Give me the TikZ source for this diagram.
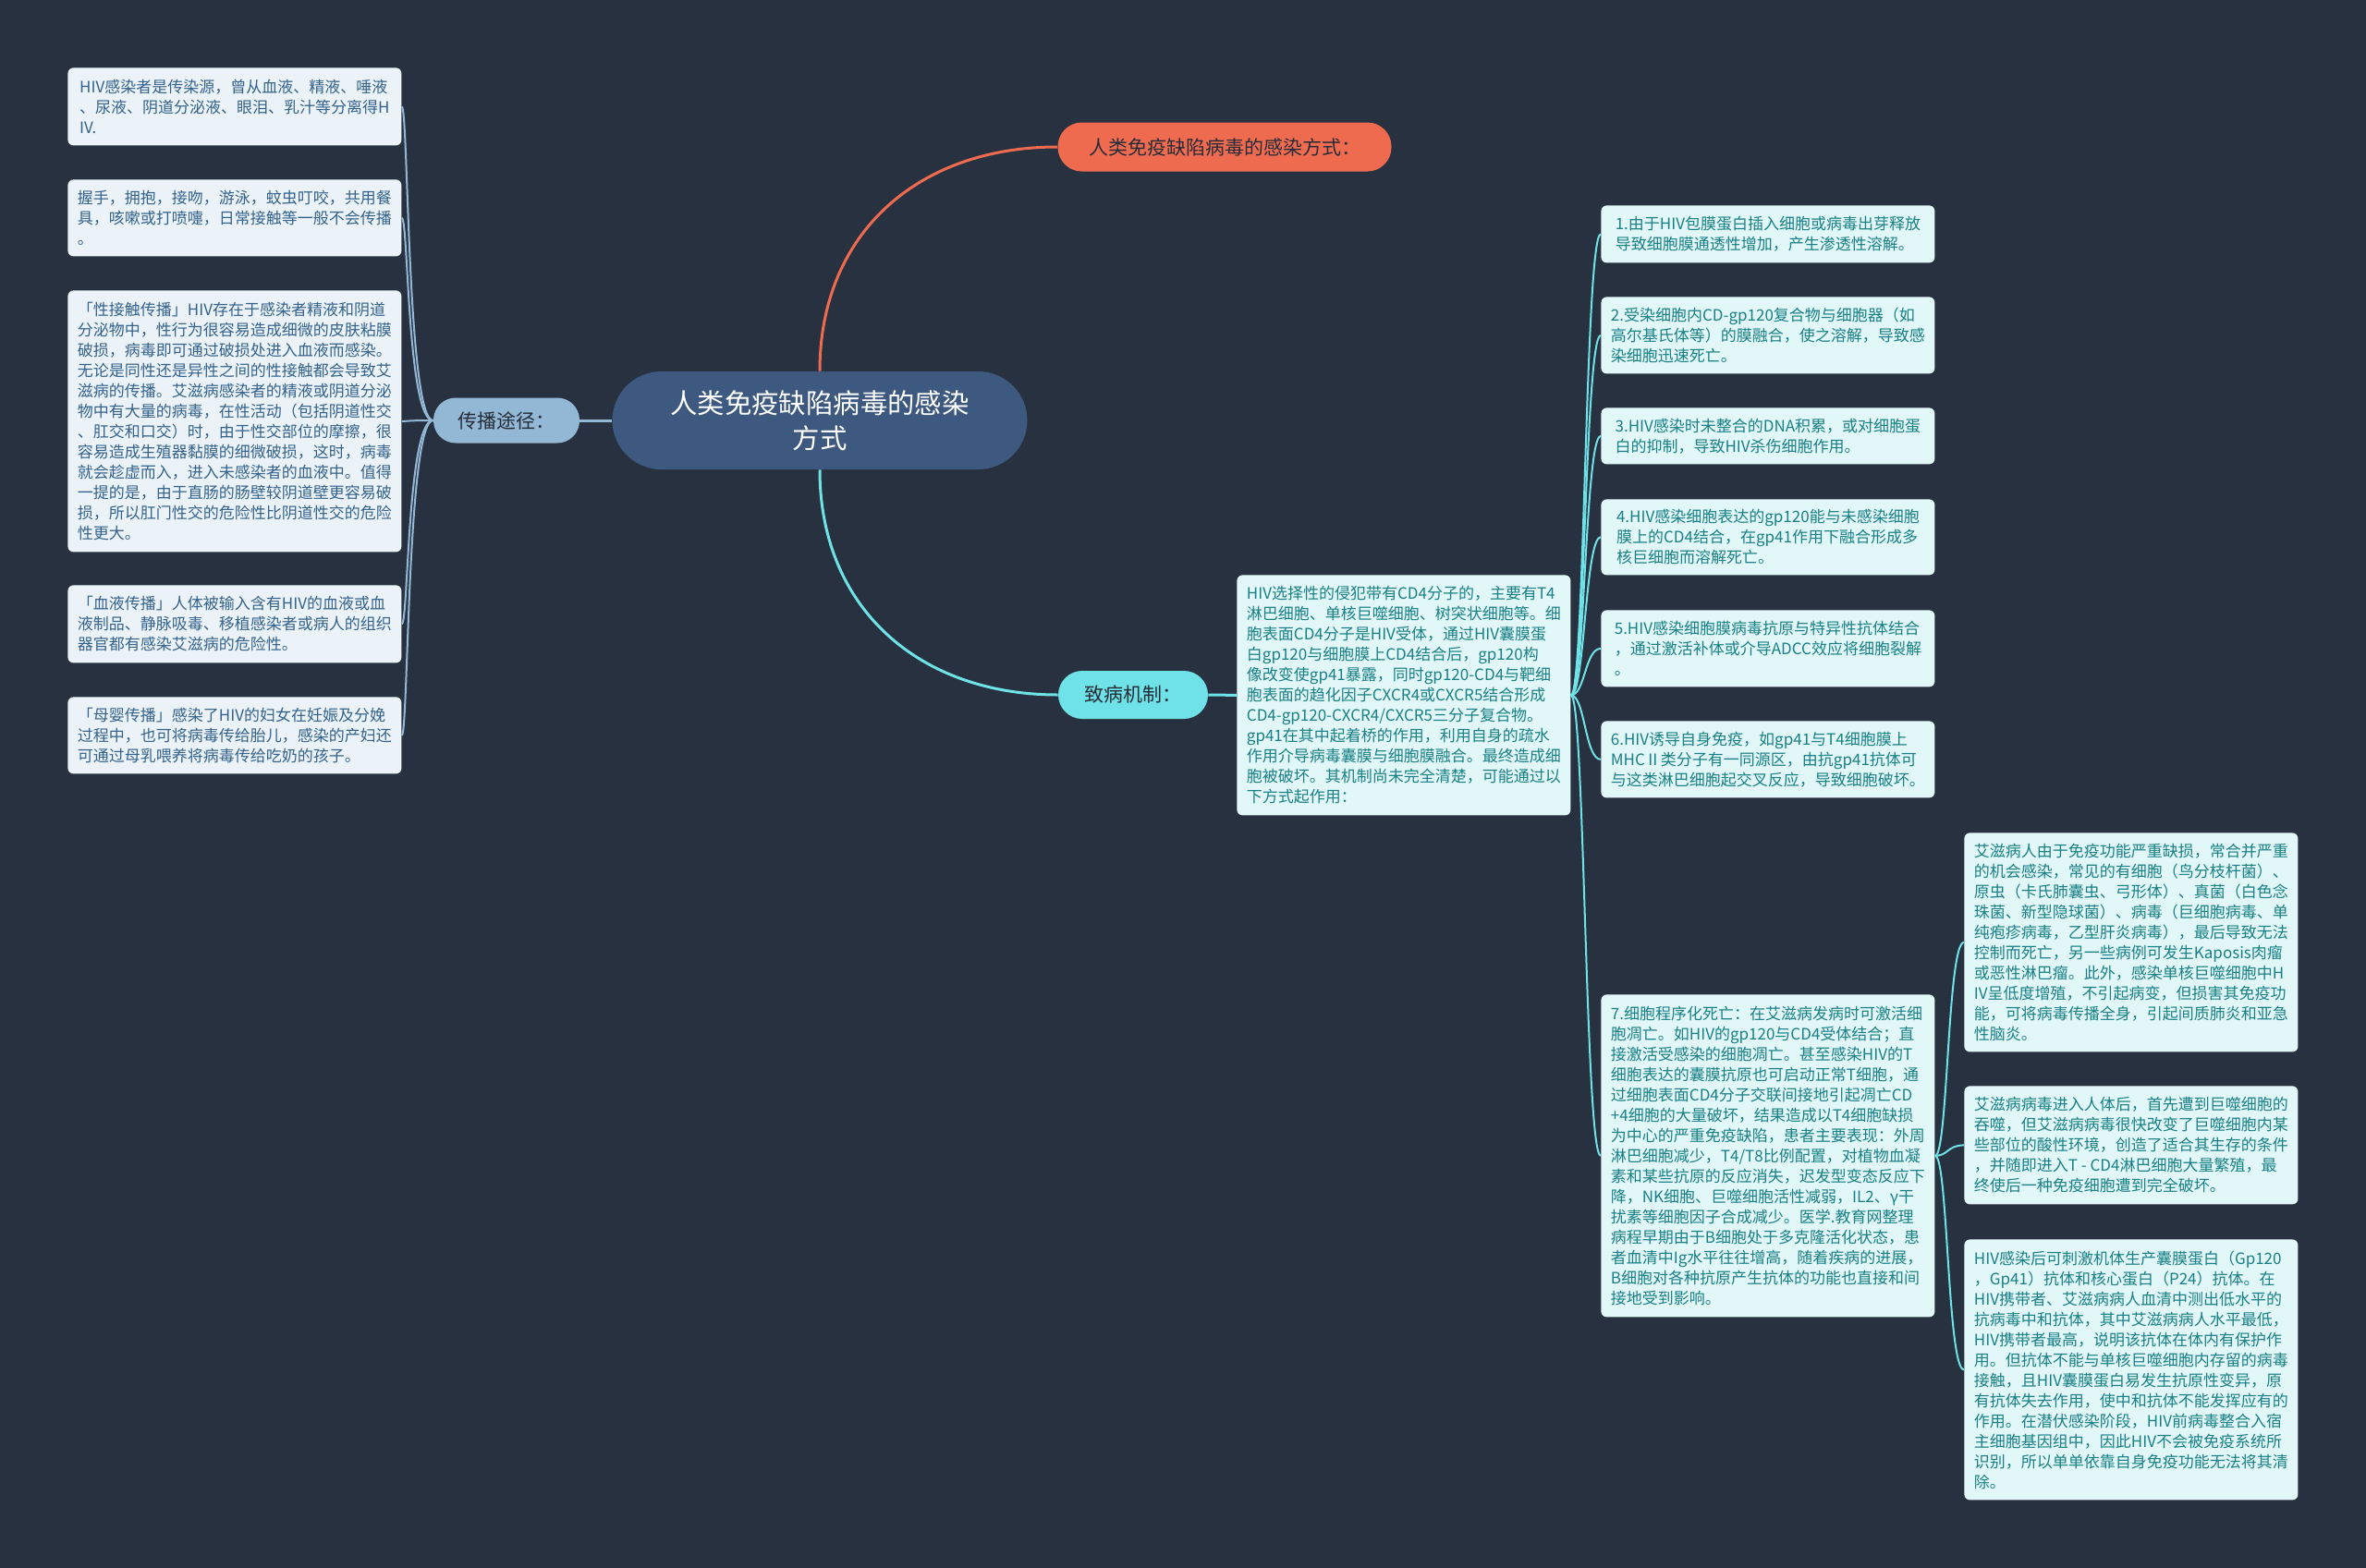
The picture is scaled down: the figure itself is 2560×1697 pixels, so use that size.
\documentclass[tikz,border=0pt]{standalone}
\usepackage{fontspec}
\setmainfont{Noto Sans CJK SC}
\usepackage{tikz}
\usetikzlibrary{positioning, arrows.meta, shapes, calc}
\definecolor{bgnavy}{RGB}{40, 49, 64}
\definecolor{rootblue}{RGB}{62, 89, 128}
\definecolor{wayorange}{RGB}{239, 107, 79}
\definecolor{mechcyan}{RGB}{110, 226, 230}
\definecolor{transblue}{RGB}{146, 184, 214}
\definecolor{leftfill}{RGB}{235, 243, 249}
\definecolor{lefttext}{RGB}{52, 98, 140}
\definecolor{rightfill}{RGB}{226, 247, 248}
\definecolor{righttext}{RGB}{24, 128, 134}
\definecolor{darklabel}{RGB}{38, 44, 56}

\begin{document}
\begin{tikzpicture}[x=0.5pt, y=-0.5pt,
  textbox/.style={anchor=north west, rounded corners=3pt, inner sep=0pt, align=left,
    minimum width=180.5pt, font=\fontsize{8.5}{11}\selectfont},
  lbox/.style={textbox, fill=leftfill, text=lefttext},
  rbox/.style={textbox, fill=rightfill, text=righttext},
  pill/.style={inner sep=0pt, font=\fontsize{10.5}{12}\selectfont, text=darklabel},
  lline/.style={transblue, line width=1pt},
  rline/.style={mechcyan, line width=1pt}]

\path[use as bounding box, fill=bgnavy] (0,0) rectangle (2560,1697);

% centre and the three branches
\node[fill=rootblue, rounded corners=26.5pt, minimum width=224.5pt, minimum height=53pt,
  inner sep=0pt, align=center, text=white, font=\fontsize{14.7}{19}\selectfont]
  (root) at (887,455) {人类免疫缺陷病毒的感染\\方式};
\node[pill, fill=wayorange, rounded corners=13pt, minimum width=180.5pt, minimum height=26.5pt]
  (way) at (1325,159) {人类免疫缺陷病毒的感染方式：};
\node[pill, fill=mechcyan, rounded corners=13pt, minimum width=81pt, minimum height=26pt]
  (mech) at (1226,752) {致病机制：};
\node[pill, fill=transblue, rounded corners=12pt, minimum width=79pt, minimum height=24.5pt]
  (trans) at (548,455) {传播途径：};

% transmission
\node[lbox, minimum height=42pt] (s1) at (73,73)
  {HIV感染者是传染源，曾从血液、精液、唾液\\、尿液、阴道分泌液、眼泪、乳汁等分离得H\\IV.};
\node[lbox, minimum height=41.5pt] (s2) at (73,194)
  {握手，拥抱，接吻，游泳，蚊虫叮咬，共用餐\\具，咳嗽或打喷嚏，日常接触等一般不会传播\\。};
\node[lbox, minimum height=141.5pt] (s3) at (73,314)
  {「性接触传播」HIV存在于感染者精液和阴道\\分泌物中，性行为很容易造成细微的皮肤粘膜\\破损，病毒即可通过破损处进入血液而感染。\\无论是同性还是异性之间的性接触都会导致艾\\滋病的传播。艾滋病感染者的精液或阴道分泌\\物中有大量的病毒，在性活动（包括阴道性交\\、肛交和口交）时，由于性交部位的摩擦，很\\容易造成生殖器黏膜的细微破损，这时，病毒\\就会趁虚而入，进入未感染者的血液中。值得\\一提的是，由于直肠的肠壁较阴道壁更容易破\\损，所以肛门性交的危险性比阴道性交的危险\\性更大。};
\node[lbox, minimum height=42pt] (s4) at (73,633)
  {「血液传播」人体被输入含有HIV的血液或血\\液制品、静脉吸毒、移植感染者或病人的组织\\器官都有感染艾滋病的危险性。};
\node[lbox, minimum height=41.5pt] (s5) at (73,754)
  {「母婴传播」感染了HIV的妇女在妊娠及分娩\\过程中，也可将病毒传给胎儿，感染的产妇还\\可通过母乳喂养将病毒传给吃奶的孩子。};

% mechanism
\node[rbox, minimum height=130pt] (mbox) at (1338,622)
  {HIV选择性的侵犯带有CD4分子的，主要有T4\\淋巴细胞、单核巨噬细胞、树突状细胞等。细\\胞表面CD4分子是HIV受体，通过HIV囊膜蛋\\白gp120与细胞膜上CD4结合后，gp120构\\像改变使gp41暴露，同时gp120-CD4与靶细\\胞表面的趋化因子CXCR4或CXCR5结合形成\\CD4-gp120-CXCR4/CXCR5三分子复合物。\\gp41在其中起着桥的作用，利用自身的疏水\\作用介导病毒囊膜与细胞膜融合。最终造成细\\胞被破坏。其机制尚未完全清楚，可能通过以\\下方式起作用：};

\node[rbox, minimum height=31pt] (c1) at (1732,222)
  {1.由于HIV包膜蛋白插入细胞或病毒出芽释放\\导致细胞膜通透性增加，产生渗透性溶解。};
\node[rbox, minimum height=41.5pt] (c2) at (1732,321)
  {2.受染细胞内CD-gp120复合物与细胞器（如\\高尔基氏体等）的膜融合，使之溶解，导致感\\染细胞迅速死亡。};
\node[rbox, minimum height=30.5pt] (c3) at (1732,441)
  {3.HIV感染时未整合的DNA积累，或对细胞蛋\\白的抑制，导致HIV杀伤细胞作用。};
\node[rbox, minimum height=41pt] (c4) at (1732,540)
  {4.HIV感染细胞表达的gp120能与未感染细胞\\膜上的CD4结合，在gp41作用下融合形成多\\核巨细胞而溶解死亡。};
\node[rbox, minimum height=41.5pt] (c5) at (1732,660)
  {5.HIV感染细胞膜病毒抗原与特异性抗体结合\\，通过激活补体或介导ADCC效应将细胞裂解\\。};
\node[rbox, minimum height=41.5pt] (c6) at (1732,780)
  {6.HIV诱导自身免疫，如gp41与T4细胞膜上\\MHCⅡ类分子有一同源区，由抗gp41抗体可\\与这类淋巴细胞起交叉反应，导致细胞破坏。};
\node[rbox, minimum height=174.5pt] (c7) at (1732,1076)
  {7.细胞程序化死亡：在艾滋病发病时可激活细\\胞凋亡。如HIV的gp120与CD4受体结合；直\\接激活受感染的细胞凋亡。甚至感染HIV的T\\细胞表达的囊膜抗原也可启动正常T细胞，通\\过细胞表面CD4分子交联间接地引起凋亡CD\\+4细胞的大量破坏，结果造成以T4细胞缺损\\为中心的严重免疫缺陷，患者主要表现：外周\\淋巴细胞减少，T4/T8比例配置，对植物血凝\\素和某些抗原的反应消失，迟发型变态反应下\\降，NK细胞、巨噬细胞活性减弱，IL2、γ干\\扰素等细胞因子合成减少。医学.教育网整理\\病程早期由于B细胞处于多克隆活化状态，患\\者血清中Ig水平往往增高，随着疾病的进展，\\B细胞对各种抗原产生抗体的功能也直接和间\\接地受到影响。};

\node[rbox, minimum height=118.5pt] (d1) at (2125,901)
  {艾滋病人由于免疫功能严重缺损，常合并严重\\的机会感染，常见的有细胞（鸟分枝杆菌）、\\原虫（卡氏肺囊虫、弓形体）、真菌（白色念\\珠菌、新型隐球菌）、病毒（巨细胞病毒、单\\纯疱疹病毒，乙型肝炎病毒），最后导致无法\\控制而死亡，另一些病例可发生Kaposis肉瘤\\或恶性淋巴瘤。此外，感染单核巨噬细胞中H\\IV呈低度增殖，不引起病变，但损害其免疫功\\能，可将病毒传播全身，引起间质肺炎和亚急\\性脑炎。};
\node[rbox, minimum height=64pt] (d2) at (2125,1175)
  {艾滋病病毒进入人体后，首先遭到巨噬细胞的\\吞噬，但艾滋病病毒很快改变了巨噬细胞内某\\些部位的酸性环境，创造了适合其生存的条件\\，并随即进入T - CD4淋巴细胞大量繁殖，最\\终使后一种免疫细胞遭到完全破坏。};
\node[rbox, minimum height=141pt] (d3) at (2125,1341)
  {HIV感染后可刺激机体生产囊膜蛋白（Gp120\\，Gp41）抗体和核心蛋白（P24）抗体。在\\HIV携带者、艾滋病病人血清中测出低水平的\\抗病毒中和抗体，其中艾滋病病人水平最低，\\HIV携带者最高，说明该抗体在体内有保护作\\用。但抗体不能与单核巨噬细胞内存留的病毒\\接触，且HIV囊膜蛋白易发生抗原性变异，原\\有抗体失去作用，使中和抗体不能发挥应有的\\作用。在潜伏感染阶段，HIV前病毒整合入宿\\主细胞基因组中，因此HIV不会被免疫系统所\\识别，所以单单依靠自身免疫功能无法将其清\\除。};

% connectors
\draw[wayorange, line width=1.5pt] (root.north) .. controls +(0,-150) and +(-150,0) .. (way.west);
\draw[mechcyan, line width=1.5pt] (root.south) .. controls +(0,150) and +(-150,0) .. (mech.west);
\draw[mechcyan, line width=1.5pt] (mech.east) -- (mbox.west);
\draw[transblue, line width=1.5pt] (root.west) -- (trans.east);
\foreach \n in {s1,s2,s3,s4,s5}
  \draw[lline] (trans.west) .. controls +(-28,0) and +(7,0) .. (\n.east);
\foreach \n in {c1,c2,c3,c4,c5,c6,c7}
  \draw[rline] (mbox.east) .. controls +(15,0) and +(-17,0) .. (\n.west);
\foreach \n in {d1,d2,d3}
  \draw[rline] (c7.east) .. controls +(14,0) and +(-18,0) .. (\n.west);
\end{tikzpicture}
\end{document}
